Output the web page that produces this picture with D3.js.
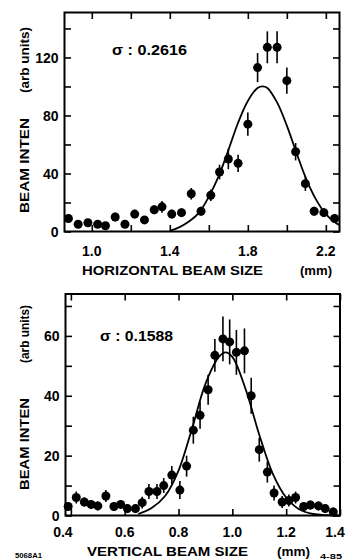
<!DOCTYPE html>
<html>
<head>
<meta charset="utf-8">
<script src="https://cdn.jsdelivr.net/npm/d3@7"></script>
<style>
  body { margin: 0; background: #fff; }
  svg { display: block; }
</style>
</head>
<body>
<div id="svg_container"></div>
<script>
const width = 346;
const height = 560;
const dotRadius = 4.5;
const fontFam = "'Liberation Sans', Arial, sans-serif";

// horizontal scan (top panel)
const horizSize  = [0.88, 0.93, 0.98, 1.03, 1.07, 1.12, 1.17, 1.22, 1.27, 1.32, 1.36, 1.41, 1.46, 1.51, 1.56,
                    1.61, 1.655, 1.70, 1.75, 1.80, 1.85, 1.90, 1.95, 2.00, 2.045, 2.095, 2.14, 2.19, 2.245];
const horizInten = [9, 5, 6, 5, 4, 10, 5, 12, 8, 15, 17, 12, 13, 26, 14,
                    25, 41, 50, 47, 74, 113, 127, 127, 104, 55, 33, 14, 13, 9];
const horizErr   = [3, 2, 2, 2, 2, 3, 2, 3, 2, 3, 4, 3, 3, 4, 3,
                    4, 5, 7, 6, 8, 10, 11, 11, 9, 6, 5, 3, 3, 3];
// fitted gaussian
const horizFitX = [1.40, 1.45, 1.50, 1.55, 1.60, 1.65, 1.70, 1.75, 1.80, 1.85, 1.875, 1.90, 1.95, 2.00, 2.05, 2.10, 2.15, 2.20, 2.25, 2.27];
const horizFitY = [0.5, 3, 7, 13, 24, 38, 56, 75, 90, 99, 100, 99, 89, 73, 54, 36, 22, 12, 6, 4.5];
const horizXTicks = [1.0, 1.2, 1.4, 1.6, 1.8, 2.0, 2.2];
const horizXLabels = [1.0, 1.4, 1.8, 2.2];
const horizYTicks = [0, 20, 40, 60, 80, 100, 120, 140];
const horizYLabels = [0, 40, 80, 120];

// vertical scan (bottom panel)
const vertSize  = [0.39, 0.42, 0.45, 0.475, 0.50, 0.53, 0.56, 0.585, 0.61, 0.64, 0.665, 0.69, 0.72, 0.745, 0.775,
                   0.805, 0.83, 0.855, 0.88, 0.91, 0.935, 0.965, 0.99, 1.015, 1.045, 1.07, 1.10, 1.13, 1.155,
                   1.185, 1.21, 1.235, 1.265, 1.29, 1.32, 1.345, 1.375];
const vertInten = [3, 6, 4.5, 3.7, 3.2, 6.5, 3, 3.7, 2.3, 2.3, 4.3, 8, 8, 10, 13.5,
                   8.5, 16.5, 28.5, 33.5, 42, 53.5, 59, 58, 54.5, 55, 40, 22, 14.5, 7.5,
                   4.5, 5, 6, 3, 3.5, 3.2, 2.3, 1.2];
const vertErr   = [1.5, 2, 1.5, 1.5, 1.5, 2, 1.5, 1.5, 1.5, 1.5, 2, 2.5, 2.5, 2.5, 3,
                   3, 3.5, 4.5, 4.5, 5, 5.5, 7.5, 7.5, 7.5, 7.5, 6, 4, 3.5, 2.5,
                   2, 2, 2, 1.5, 1.5, 1.5, 1.5, 1.5];
const vertFitX = [0.65, 0.70, 0.75, 0.80, 0.85, 0.90, 0.95, 0.975, 1.00, 1.05, 1.10, 1.15, 1.20, 1.25, 1.30, 1.35, 1.40];
const vertFitY = [0.5, 2.5, 6.5, 15, 29, 44, 53, 54.5, 53, 42, 27, 14, 6, 2, 0.5, 0.1, 0];
const vertXTicks = [0.4, 0.6, 0.8, 1.0, 1.2, 1.4];
const vertXLabels = [0.4, 0.6, 0.8, 1.0, 1.2, 1.4];
const vertYTicks = [0, 10, 20, 30, 40, 50, 60, 70];
const vertYLabels = [0, 20, 40, 60];

let svg = d3.select('#svg_container')
  .append('svg')
  .attr('width', width)
  .attr('height', height)
  .style("background", "#fff");

function addText(str, x, y, size, len, rot) {
  let t = svg.append("text")
    .text(str)
    .attr("font-family", fontFam)
    .attr("font-weight", "bold")
    .attr("font-size", size + "px")
    .attr("fill", "#000");
  if (len) t.attr("textLength", len).attr("lengthAdjust", "spacingAndGlyphs");
  if (rot) t.attr("transform", "translate(" + x + "," + y + ") rotate(-90)");
  else t.attr("x", x).attr("y", y);
  return t;
}

function drawPanel(p) {
  let g = svg.append("g");
  let x = d3.scaleLinear().domain(p.xDomain).range([p.left, p.right]);
  let y = d3.scaleLinear().domain(p.yDomain).range([p.bottom, p.top]);
  let fmt = d3.format(".1f");

  // inward ticks on all four sides
  let axes = [
    [d3.axisBottom(x).tickValues(p.xTicks), "translate(0," + p.bottom + ")"],
    [d3.axisTop(x).tickValues(p.xTicks), "translate(0," + p.top + ")"],
    [d3.axisLeft(y).tickValues(p.yTicks), "translate(" + p.left + ",0)"],
    [d3.axisRight(y).tickValues(p.yTicks), "translate(" + p.right + ",0)"]
  ];
  axes.forEach(function(a) {
    let ax = g.append("g")
      .attr("transform", a[1])
      .call(a[0].tickSize(-6.5).tickFormat(""));
    ax.select(".domain").remove();
    ax.selectAll("line").attr("stroke", "#000").attr("stroke-width", 1.6);
  });

  // frame
  g.append("rect")
    .attr("x", p.left)
    .attr("y", p.top)
    .attr("width", p.right - p.left)
    .attr("height", p.bottom - p.top)
    .style("fill", "none")
    .style("stroke", "#000")
    .style("stroke-width", 2);

  // tick labels
  g.selectAll("text.xlab")
    .data(p.xLabels)
    .enter()
    .append("text")
    .attr("class", "xlab")
    .attr("x", function(d, i) { return x(d) + (p.xNudge[i] || 0); })
    .attr("y", p.xLabelY)
    .attr("text-anchor", "middle")
    .attr("font-family", fontFam)
    .attr("font-weight", "bold")
    .attr("font-size", "14px")
    .text(function(d) { return fmt(d); });

  g.selectAll("text.ylab")
    .data(p.yLabels)
    .enter()
    .append("text")
    .attr("class", "ylab")
    .attr("x", p.left - 6)
    .attr("y", function(d) { return y(d); })
    .attr("dy", "0.36em")
    .attr("text-anchor", "end")
    .attr("font-family", fontFam)
    .attr("font-weight", "bold")
    .attr("font-size", "14px")
    .text(function(d) { return d; });

  // fit curve
  let line = d3.line()
    .x(function(d) { return x(d[0]); })
    .y(function(d) { return y(d[1]); })
    .curve(d3.curveCatmullRom);
  g.append("path")
    .datum(d3.zip(p.fitX, p.fitY))
    .attr("d", line)
    .style("fill", "none")
    .style("stroke", "#000")
    .style("stroke-width", 1.8);

  // error bars + dots
  let pts = p.size.map(function(s, i) { return { s: s, v: p.inten[i], e: p.err[i] }; });
  g.selectAll("line.err")
    .data(pts)
    .enter()
    .append("line")
    .attr("class", "err")
    .attr("x1", function(d) { return x(d.s); })
    .attr("x2", function(d) { return x(d.s); })
    .attr("y1", function(d) { return y(d.v - d.e); })
    .attr("y2", function(d) { return y(d.v + d.e); })
    .style("stroke", "#000")
    .style("stroke-width", 1.6);
  g.selectAll("circle")
    .data(pts)
    .enter()
    .append("circle")
    .attr("cx", function(d) { return x(d.s); })
    .attr("cy", function(d) { return y(d.v); })
    .attr("r", dotRadius)
    .style("fill", "#000");
}

drawPanel({
  left: 64.5, right: 339.5, top: 12.5, bottom: 231.5,
  xDomain: [0.86, 2.27], yDomain: [0, 151],
  xTicks: horizXTicks, xLabels: horizXLabels, xNudge: [], xLabelY: 256,
  yTicks: horizYTicks, yLabels: horizYLabels,
  size: horizSize, inten: horizInten, err: horizErr,
  fitX: horizFitX, fitY: horizFitY
});

drawPanel({
  left: 65.5, right: 340, top: 294, bottom: 515.5,
  xDomain: [0.38, 1.4], yDomain: [0, 74],
  xTicks: vertXTicks, xLabels: vertXLabels, xNudge: [-8, 0, 0, 0, 0, -5], xLabelY: 537,
  yTicks: vertYTicks, yLabels: vertYLabels,
  size: vertSize, inten: vertInten, err: vertErr,
  fitX: vertFitX, fitY: vertFitY
});

// labels
addText("\u03c3 : 0.2616", 112, 54.5, 14, 75);
addText("\u03c3 : 0.1588", 100, 340.5, 14, 73);

addText("BEAM INTEN", 29, 213, 12.5, 95, true);
addText("(arb units)", 29, 93, 12.5, 66, true);
addText("BEAM INTEN", 29, 490, 12.5, 92, true);
addText("(arb units)", 29, 363, 12.5, 58, true);

addText("HORIZONTAL BEAM SIZE", 82, 275, 12, 181);
addText("(mm)", 300, 275, 12, 32);
addText("VERTICAL BEAM SIZE", 87, 556, 12, 161);
addText("(mm)", 277, 556, 12, 33);

addText("5068A1", 15, 558, 8, 27);
addText("4-85", 320, 559, 7, 22);
</script>
</body>
</html>
